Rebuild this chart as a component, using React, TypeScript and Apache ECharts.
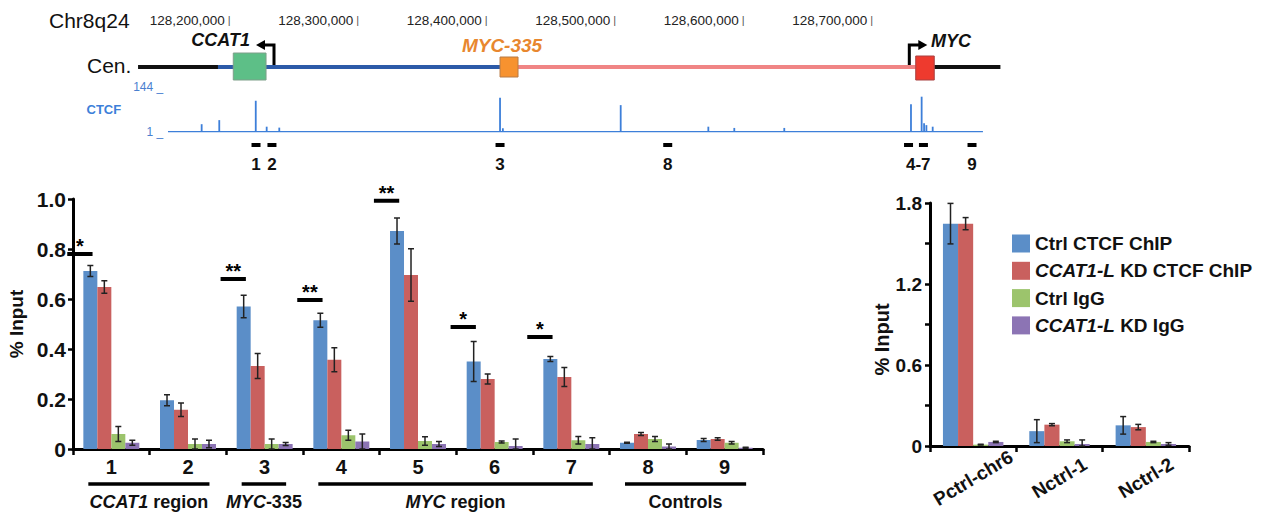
import React, { useEffect, useRef } from 'react';
import * as echarts from 'echarts';

const FONT = '"Liberation Sans", Arial, Helvetica, sans-serif';

// ---------- Left chart: ChIP-qPCR at sites 1-9 ----------
const siteCategories = ['1', '2', '3', '4', '5', '6', '7', '8', '9'];
const ctrlCtcf = [0.712, 0.195, 0.57, 0.515, 0.872, 0.35, 0.36, 0.025, 0.036];
const ctrlCtcfErr = [0.022, 0.022, 0.045, 0.028, 0.052, 0.08, 0.01, 0.002, 0.006];
const kdCtcf = [0.648, 0.157, 0.332, 0.357, 0.696, 0.28, 0.288, 0.06, 0.04];
const kdCtcfErr = [0.025, 0.027, 0.05, 0.048, 0.105, 0.02, 0.038, 0.006, 0.005];
const ctrlIgg = [0.06, 0.02, 0.02, 0.055, 0.032, 0.028, 0.035, 0.04, 0.025];
const ctrlIggErr = [0.03, 0.02, 0.02, 0.02, 0.017, 0.004, 0.015, 0.01, 0.005];
const kdIgg = [0.025, 0.02, 0.02, 0.03, 0.02, 0.012, 0.02, 0.01, 0.005];
const kdIggErr = [0.01, 0.015, 0.006, 0.03, 0.01, 0.028, 0.025, 0.01, 0.002];

// significance bars
const sigCategoryIndex = [0, 2, 3, 4, 5, 6];
const sigLevel = [0.78, 0.68, 0.596, 0.993, 0.488, 0.448];
const sigStars = ['*', '**', '**', '**', '*', '*'];

// region groups (category index ranges)
const groupFirst = [0, 2, 3, 7];
const groupLast = [1, 2, 6, 8];
const groupGene = ['CCAT1', 'MYC', 'MYC', ''];
const groupRest = [' region', '-335', ' region', 'Controls'];

// ---------- Right chart: controls ----------
const ctrlCategories = ['Pctrl-chr6', 'Nctrl-1', 'Nctrl-2'];
const cBlue = [1.647, 0.11, 0.153];
const cBlueErr = [0.15, 0.085, 0.065];
const cRed = [1.647, 0.158, 0.14];
const cRedErr = [0.045, 0.008, 0.02];
const cGreen = [0.01, 0.035, 0.03];
const cGreenErr = [0.003, 0.01, 0.005];
const cPurple = [0.03, 0.015, 0.015];
const cPurpleErr = [0.005, 0.03, 0.01];

const seriesNames = ['Ctrl CTCF ChIP', 'CCAT1-L KD CTCF ChIP', 'Ctrl IgG', 'CCAT1-L KD IgG'];
const COLORS = ['#5b8ec8', '#c9605e', '#9cc46c', '#8c74b4'];

// ---------- Top: genomic track chr8q24 ----------
const genomeMin = 128100000;
const genomeMax = 128800000;
const genomeStep = 100000;

const chromSegStart = [128127900, 128190100, 128423600, 128747500];
const chromSegEnd = [128190100, 128409600, 128733100, 128799000];
const chromSegKind = ['flank', 'ccat', 'myc', 'flank'];

const featureNames = ['CCAT1', 'MYC-335', 'MYC'];
const featureStart = [128202000, 128409600, 128733100];
const featureEnd = [128227500, 128423600, 128747500];

const tssPos = [128233700, 128728100];
const tssStrand = [-1, 1];

const ctcfBaseStart = 128151200;
const ctcfBaseEnd = 128785400;
const ctcfPeakPos = [128177400, 128191100, 128219500, 128228000, 128237800, 128409600, 128411800, 128503500, 128571700, 128591900, 128630800, 128729400, 128737700, 128739600, 128741400, 128746300];
const ctcfPeakHeight = [25, 38, 100, 17, 14, 110, 12, 86, 17, 13, 13, 89, 113, 28, 22, 17];

const markerPos = [128219700, 128232100, 128409600, 128540100, 128727500, 128739100, 128776900];
const siteLabelText = ['1', '2', '3', '8', '4-7', '9'];
const siteLabelPos = [128219700, 128232100, 128409600, 128540100, 128735100, 128776900];

// ---------- styles ----------
const SEG_COLORS: Record<string, string> = { flank: '#111111', ccat: '#2c5aa8', myc: '#f08585' };
const FEATURE_STYLE: Record<string, any> = {
  'CCAT1': { fill: '#5dbf87', stroke: '#7f9f8a', top: 53, bottom: 80, labelDx: -29, labelY: 40, size: 18, color: '#111' },
  'MYC-335': { fill: '#f7922f', stroke: '#b87a45', top: 57, bottom: 77, labelDx: -7, labelY: 45, size: 19, color: '#e8872f' },
  'MYC': { fill: '#ee3a2e', stroke: '#a84040', top: 56, bottom: 80, labelDx: 26, labelY: 41, size: 18, color: '#111' },
};
const CHROM_Y = 67;
const CTCF_COLOR = '#3d7fd9';

const fmtGenome = (v: number) => String(v).replace(/\B(?=(\d{3})+(?!\d))/g, ',');

function errorData(vals: number[][], errs: number[][]) {
  const out: number[][] = [];
  vals.forEach((arr, s) => {
    arr.forEach((v, c) => {
      out.push([c, s, Math.max(0, v - errs[s][c]), v + errs[s][c]]);
    });
  });
  return out;
}

function errRender(gap: number) {
  return (params: any, api: any) => {
    const c = api.value(0);
    const s = api.value(1);
    const lo = api.value(2);
    const hi = api.value(3);
    const bw = api.size([1, 0])[0];
    const barW = (bw * (1 - gap)) / 4;
    const cx = api.coord([c, 0])[0] + (s - 1.5) * barW;
    const yLo = api.coord([c, lo])[1];
    const yHi = api.coord([c, hi])[1];
    const cap = 3;
    const st = { stroke: '#222', lineWidth: 1.5 };
    return {
      type: 'group',
      children: [
        { type: 'line', shape: { x1: cx, y1: yLo, x2: cx, y2: yHi }, style: st },
        { type: 'line', shape: { x1: cx - cap, y1: yHi, x2: cx + cap, y2: yHi }, style: st },
        { type: 'line', shape: { x1: cx - cap, y1: yLo, x2: cx + cap, y2: yLo }, style: st },
      ],
    };
  };
}

const boldAxis = {
  axisLine: { show: true, lineStyle: { color: '#000', width: 3 } },
  axisTick: { show: true, length: 6, lineStyle: { color: '#000', width: 2.5 } },
  splitLine: { show: false },
};

function buildOption() {
  const leftVals = [ctrlCtcf, kdCtcf, ctrlIgg, kdIgg];
  const leftErrs = [ctrlCtcfErr, kdCtcfErr, ctrlIggErr, kdIggErr];
  const rightVals = [cBlue, cRed, cGreen, cPurple];
  const rightErrs = [cBlueErr, cRedErr, cGreenErr, cPurpleErr];
  const LEFT_GAP = 0.27;
  const RIGHT_GAP = 0.3;

  const track = { xAxisIndex: 2, yAxisIndex: 2, clip: false, silent: true, encode: { x: 0, y: 1 } };

  const series: any[] = [];
  seriesNames.forEach((name, s) => {
    series.push({
      type: 'bar', name, xAxisIndex: 0, yAxisIndex: 0, data: leftVals[s],
      barGap: '0%', barCategoryGap: LEFT_GAP * 100 + '%', itemStyle: { color: COLORS[s] },
    });
  });
  seriesNames.forEach((name, s) => {
    series.push({
      type: 'bar', name, xAxisIndex: 1, yAxisIndex: 1, data: rightVals[s],
      barGap: '0%', barCategoryGap: RIGHT_GAP * 100 + '%', itemStyle: { color: COLORS[s] },
    });
  });
  series.push({
    type: 'custom', xAxisIndex: 0, yAxisIndex: 0, clip: false, silent: true,
    data: errorData(leftVals, leftErrs), encode: { x: 0, y: 3 }, renderItem: errRender(LEFT_GAP), z: 5,
  });
  series.push({
    type: 'custom', xAxisIndex: 1, yAxisIndex: 1, clip: false, silent: true,
    data: errorData(rightVals, rightErrs), encode: { x: 0, y: 3 }, renderItem: errRender(RIGHT_GAP), z: 5,
  });
  // significance
  series.push({
    type: 'custom', xAxisIndex: 0, yAxisIndex: 0, clip: false, silent: true,
    data: sigCategoryIndex.map((c, i) => [c, sigLevel[i]]), encode: { x: 0, y: 1 },
    renderItem: (params: any, api: any) => {
      const i = params.dataIndex;
      const p = api.coord([api.value(0), api.value(1)]);
      const bw = api.size([1, 0])[0];
      const cx = p[0] - 0.41 * bw;
      const half = 0.165 * bw;
      return {
        type: 'group',
        children: [
          { type: 'line', shape: { x1: cx - half, y1: p[1], x2: cx + half, y2: p[1] }, style: { stroke: '#000', lineWidth: 4 } },
          { type: 'text', style: { text: sigStars[i], x: cx, y: p[1] - 8, align: 'center', verticalAlign: 'middle', textAlign: 'center', textVerticalAlign: 'middle', font: 'bold 20px ' + FONT, fill: '#000' } },
        ],
      };
    },
  });
  // groups under left x-axis
  series.push({
    type: 'custom', xAxisIndex: 0, yAxisIndex: 0, clip: false, silent: true,
    data: groupFirst.map((f, i) => [f, 0, groupLast[i]]), encode: { x: 0, y: 1 },
    renderItem: (params: any, api: any) => {
      const i = params.dataIndex;
      const bw = api.size([1, 0])[0];
      const x1 = api.coord([groupFirst[i], 0])[0] - 0.3 * bw;
      const x2 = api.coord([groupLast[i], 0])[0] + 0.28 * bw;
      const tok = { fontSize: 18, fontWeight: 'bold', fontFamily: FONT, fill: '#111', color: '#111' };
      const text = (groupGene[i] ? '{i|' + groupGene[i] + '}' : '') + '{n|' + groupRest[i] + '}';
      return {
        type: 'group',
        children: [
          { type: 'line', shape: { x1, y1: 484, x2, y2: 484 }, style: { stroke: '#000', lineWidth: 3.5 } },
          {
            type: 'text',
            style: {
              text, x: (x1 + x2) / 2, y: 502, align: 'center', verticalAlign: 'middle', textAlign: 'center', textVerticalAlign: 'middle',
              fontSize: 18, fontWeight: 'bold', fontFamily: FONT, fill: '#111',
              rich: { i: { ...tok, fontStyle: 'italic' }, n: { ...tok } },
            },
          },
        ],
      };
    },
  });

  // ----- track -----
  series.push({
    type: 'custom', ...track,
    data: chromSegStart.map((s) => [s, 0]),
    renderItem: (params: any, api: any) => {
      const i = params.dataIndex;
      const x1 = api.coord([chromSegStart[i], 0])[0];
      const x2 = api.coord([chromSegEnd[i], 0])[0];
      return { type: 'line', shape: { x1, y1: CHROM_Y, x2, y2: CHROM_Y }, style: { stroke: SEG_COLORS[chromSegKind[i]], lineWidth: 4 } };
    },
  });
  series.push({
    type: 'custom', ...track, z: 3,
    data: featureStart.map((s) => [s, 0]),
    renderItem: (params: any, api: any) => {
      const i = params.dataIndex;
      const st = FEATURE_STYLE[featureNames[i]];
      const x1 = api.coord([featureStart[i], 0])[0];
      const x2 = api.coord([featureEnd[i], 0])[0];
      return {
        type: 'group',
        children: [
          { type: 'rect', shape: { x: x1, y: st.top, width: x2 - x1, height: st.bottom - st.top }, style: { fill: st.fill, stroke: st.stroke, lineWidth: 1 } },
          {
            type: 'text',
            style: {
              text: featureNames[i], x: (x1 + x2) / 2 + st.labelDx, y: st.labelY, align: 'center', verticalAlign: 'middle', textAlign: 'center', textVerticalAlign: 'middle',
              font: 'italic bold ' + st.size + 'px ' + FONT, fill: st.color,
            },
          },
        ],
      };
    },
  });
  series.push({
    type: 'custom', ...track, z: 4,
    data: tssPos.map((p) => [p, 0]),
    renderItem: (params: any, api: any) => {
      const i = params.dataIndex;
      const x = api.coord([tssPos[i], 0])[0];
      const d = tssStrand[i];
      const yTop = 45;
      return {
        type: 'group',
        children: [
          { type: 'polyline', shape: { points: [[x, 65], [x, yTop], [x + d * 11, yTop]] }, style: { stroke: '#000', lineWidth: 3, fill: 'none' } },
          { type: 'polygon', shape: { points: [[x + d * 18, yTop], [x + d * 9, yTop - 5], [x + d * 9, yTop + 5]] }, style: { fill: '#000' } },
        ],
      };
    },
  });
  series.push({
    type: 'custom', ...track,
    data: [[ctcfBaseStart, 1]],
    renderItem: (params: any, api: any) => {
      const a = api.coord([ctcfBaseStart, 1]);
      const b = api.coord([ctcfBaseEnd, 1]);
      return { type: 'line', shape: { x1: a[0], y1: a[1], x2: b[0], y2: b[1] }, style: { stroke: CTCF_COLOR, lineWidth: 1.3 } };
    },
  });
  series.push({
    type: 'custom', ...track,
    data: ctcfPeakPos.map((p, i) => [p, ctcfPeakHeight[i]]),
    renderItem: (params: any, api: any) => {
      const a = api.coord([api.value(0), 1]);
      const b = api.coord([api.value(0), api.value(1)]);
      return { type: 'line', shape: { x1: a[0], y1: a[1], x2: b[0], y2: b[1] }, style: { stroke: CTCF_COLOR, lineWidth: 1.8 } };
    },
  });
  series.push({
    type: 'custom', ...track,
    data: markerPos.map((p) => [p, 0]),
    renderItem: (params: any, api: any) => {
      const x = api.coord([api.value(0), 0])[0];
      return { type: 'rect', shape: { x: x - 4.5, y: 143, width: 9, height: 4 }, style: { fill: '#000' } };
    },
  });
  series.push({
    type: 'custom', ...track,
    data: siteLabelPos.map((p) => [p, 0]),
    renderItem: (params: any, api: any) => {
      const x = api.coord([api.value(0), 0])[0];
      return {
        type: 'text',
        style: { text: siteLabelText[params.dataIndex], x, y: 164, align: 'center', verticalAlign: 'middle', textAlign: 'center', textVerticalAlign: 'middle', font: 'bold 17px ' + FONT, fill: '#111' },
      };
    },
  });

  const legendTok = { fontSize: 19, fontWeight: 'bold' as const, fontFamily: FONT, color: '#111', lineHeight: 18 };

  return {
    animation: false,
    backgroundColor: '#fff',
    textStyle: { fontFamily: FONT },
    grid: [
      { left: 73, top: 199, width: 690, height: 250, containLabel: false, outerBoundsMode: 'none' },
      { left: 930, top: 203, width: 259, height: 243, containLabel: false, outerBoundsMode: 'none' },
      { left: 102.2, top: 87, width: 899.5, height: 45, containLabel: false, outerBoundsMode: 'none' },
    ],
    legend: {
      data: seriesNames,
      orient: 'vertical',
      left: 1012,
      top: 234,
      padding: 0,
      itemWidth: 18,
      itemHeight: 18,
      itemGap: 8.3,
      icon: 'rect',
      selectedMode: false,
      formatter: (name: string) => (name.startsWith('CCAT1-L') ? '{i|CCAT1-L}{n|' + name.slice(7) + '}' : '{n|' + name + '}'),
      textStyle: { ...legendTok, rich: { i: { ...legendTok, fontStyle: 'italic' }, n: { ...legendTok } } },
    },
    xAxis: [
      {
        type: 'category', gridIndex: 0, data: siteCategories, ...boldAxis,
        axisLabel: { fontSize: 20, fontWeight: 'bold', color: '#111', margin: 8, fontFamily: FONT, interval: 0 },
      },
      {
        type: 'category', gridIndex: 1, data: ctrlCategories, ...boldAxis,
        axisLabel: { fontSize: 19, fontWeight: 'bold', color: '#111', margin: 32, fontFamily: FONT, interval: 0, rotate: 31, align: 'center', verticalAlign: 'middle' },
      },
      {
        type: 'value', gridIndex: 2, min: genomeMin, max: genomeMax, interval: genomeStep,
        position: 'top', offset: 67,
        axisLine: { show: false }, axisTick: { show: false }, splitLine: { show: false },
        axisLabel: {
          showMinLabel: false, showMaxLabel: false, margin: 0, align: 'right', verticalAlign: 'middle',
          formatter: (v: number) => (v <= genomeMin || v >= genomeMax ? '' : '{n|' + fmtGenome(v) + '}{t| |}'),
          rich: {
            n: { fontSize: 13.5, color: '#222', fontFamily: FONT },
            t: { fontSize: 11, color: '#555', fontFamily: FONT },
          },
        },
      },
    ],
    yAxis: [
      {
        type: 'value', gridIndex: 0, min: 0, max: 1, interval: 0.2, ...boldAxis,
        axisTick: { show: true, length: 5, lineStyle: { color: '#000', width: 2.5 } },
        axisLabel: { fontSize: 21, fontWeight: 'bold', color: '#111', margin: 7, fontFamily: FONT, formatter: (v: number) => (v === 0 ? '0' : v.toFixed(1)) },
        name: '% Input', nameLocation: 'middle', nameGap: 46,
        nameTextStyle: { fontSize: 19, fontWeight: 'bold', color: '#111', fontFamily: FONT },
      },
      {
        type: 'value', gridIndex: 1, min: 0, max: 1.8, interval: 0.3, ...boldAxis,
        axisTick: { show: true, length: 5, lineStyle: { color: '#000', width: 2.5 } },
        axisLabel: {
          fontSize: 19, fontWeight: 'bold', color: '#111', margin: 8, fontFamily: FONT,
          formatter: (v: number) => {
            const k = Math.round(v * 10);
            if (k % 6 !== 0) return '';
            return k === 0 ? '0' : (k / 10).toFixed(1);
          },
        },
        name: '% Input', nameLocation: 'middle', nameGap: 38,
        nameTextStyle: { fontSize: 20, fontWeight: 'bold', color: '#111', fontFamily: FONT, padding: [0, 30, 0, 0] },
      },
      {
        type: 'value', gridIndex: 2, min: 0, max: 144, interval: 144, offset: -61,
        axisLine: { show: false }, axisTick: { show: false }, splitLine: { show: false },
        axisLabel: { color: '#4a7fd0', fontSize: 12, margin: 0, fontFamily: FONT, formatter: (v: number) => (v === 0 ? '1 _' : '144 _') },
        name: 'CTCF', nameLocation: 'middle', nameRotate: 0, nameGap: 42,
        nameTextStyle: { color: '#3d7fd9', fontSize: 13, fontWeight: 'bold', fontFamily: FONT },
      },
    ],
    graphic: [
      { type: 'text', left: 49, top: 10, style: { text: 'Chr8q24', font: '21px ' + FONT, fill: '#111' } },
      { type: 'text', left: 87, top: 55, style: { text: 'Cen.', font: '21px ' + FONT, fill: '#111' } },
    ],
    series,
  };
}

export default function App() {
  const ref = useRef<HTMLDivElement>(null);
  useEffect(() => {
    document.body.style.margin = '0';
    const chart = echarts.init(ref.current!, null, { renderer: 'svg' });
    chart.setOption(buildOption() as any);
    return () => chart.dispose();
  }, []);
  return <div ref={ref} style={{ width: 1270, height: 515 }} />;
}
